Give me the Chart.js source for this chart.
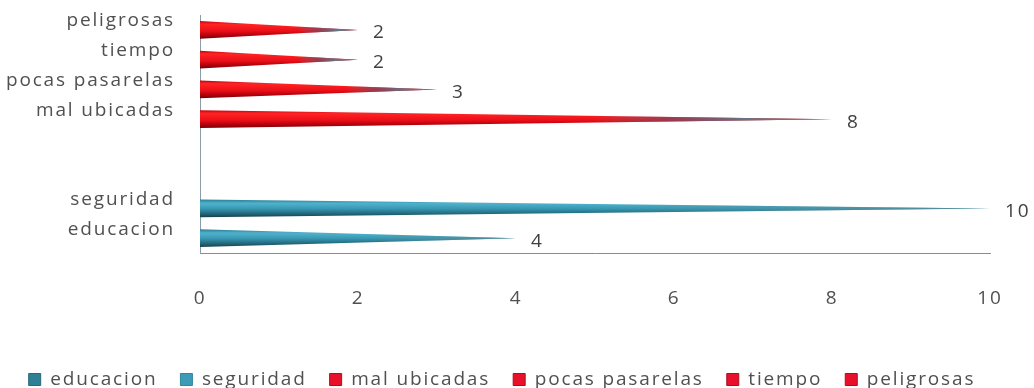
<!DOCTYPE html>
<html>
<head>
<meta charset="utf-8">
<script src="https://cdn.jsdelivr.net/npm/chart.js@4/dist/chart.umd.min.js"></script>
<style>
  html, body { margin: 0; padding: 0; background: #ffffff; }
  #wrap { width: 1034px; height: 388px; position: relative; }
</style>
</head>
<body>
<div id="wrap"><canvas id="chart"></canvas></div>
<script>
// Row labels of the vertical axis, top to bottom (two empty rows separate the groups)
const rowLabels = ['peligrosas', 'tiempo', 'pocas pasarelas', 'mal ubicadas', '', '', 'seguridad', 'educacion'];
// Series, in legend order
const seriesNames = ['educacion', 'seguridad', 'mal ubicadas', 'pocas pasarelas', 'tiempo', 'peligrosas'];
const seriesValues = [4, 10, 8, 3, 2, 2];
// Horizontal axis ticks
const xTicks = [0, 2, 4, 6, 8, 10];

const FONT = "'Open Sans', 'Noto Sans', sans-serif";
const FONT_SIZE = 19;
const TEXT = '#505050';
const SPACING = '1.85px';

// Cone shading per colour family
const palettes = {
  blue: {
    legendFill: '#2f7f95', legendStroke: '#256a7d',
    shade: [[0, '#2a7d93'], [0.22, '#4fb2cd'], [0.5, '#3a9ab4'], [0.8, '#22687c'], [1, '#163f4c']],
    tip: [[0, 'rgba(95,135,145,0)'], [0.55, 'rgba(95,135,145,0)'], [1, 'rgba(95,135,145,0.75)']]
  },
  lightBlue: {
    legendFill: '#3b9cb7', legendStroke: '#2f87a0',
    shade: [[0, '#2a7d93'], [0.22, '#4fb2cd'], [0.5, '#3a9ab4'], [0.8, '#22687c'], [1, '#163f4c']],
    tip: [[0, 'rgba(95,135,145,0)'], [0.55, 'rgba(95,135,145,0)'], [1, 'rgba(95,135,145,0.75)']]
  },
  red: {
    legendFill: '#e8102a', legendStroke: '#a81020',
    shade: [[0, '#c0000e'], [0.18, '#ff2424'], [0.55, '#ec1018'], [0.82, '#b0000c'], [1, '#700008']],
    tip: [[0, 'rgba(92,122,138,0)'], [0.62, 'rgba(92,122,138,0)'], [0.74, 'rgba(110,80,110,0.6)'], [0.86, 'rgba(92,122,138,0.95)'], [1, 'rgba(92,128,142,1)']]
  }
};
const seriesPalette = ['blue', 'lightBlue', 'red', 'red', 'red', 'red'];

const datasets = seriesNames.map((name, i) => ({
  label: name,
  data: rowLabels.map(r => (r === name ? seriesValues[i] : null)),
  palette: palettes[seriesPalette[i]],
  backgroundColor: palettes[seriesPalette[i]].legendFill,
  grouped: false,
  barPercentage: 0.6,
  categoryPercentage: 1.0
}));

// Wider text spacing for every label drawn on the canvas
const textSpacing = {
  id: 'textSpacing',
  beforeLayout(chart) { chart.ctx.letterSpacing = SPACING; },
  beforeDraw(chart) { chart.ctx.letterSpacing = SPACING; }
};

// Bars are drawn as shaded cones tapering to the value
const cones = {
  id: 'cones',
  beforeDatasetDraw(chart, args) {
    const ctx = chart.ctx;
    const ds = chart.data.datasets[args.index];
    const pal = ds.palette;
    args.meta.data.forEach((el, j) => {
      if (ds.data[j] === null) return;
      const { x, y, base, height } = el.getProps(['x', 'y', 'base', 'height'], true);
      const top = y - height / 2, bottom = y + height / 2;
      ctx.save();
      ctx.beginPath();
      ctx.moveTo(base, top);
      ctx.lineTo(x, y);
      ctx.lineTo(base, bottom);
      ctx.closePath();
      const vg = ctx.createLinearGradient(0, top, 0, bottom);
      pal.shade.forEach(([o, c]) => vg.addColorStop(o, c));
      ctx.fillStyle = vg;
      ctx.fill();
      const hg = ctx.createLinearGradient(base, 0, x, 0);
      pal.tip.forEach(([o, c]) => hg.addColorStop(o, c));
      ctx.fillStyle = hg;
      ctx.fill();
      ctx.restore();
    });
    return false;
  },
  afterDatasetsDraw(chart) {
    const ctx = chart.ctx;
    ctx.save();
    ctx.letterSpacing = SPACING;
    ctx.font = FONT_SIZE + 'px ' + FONT;
    ctx.fillStyle = '#404040';
    ctx.textAlign = 'left';
    ctx.textBaseline = 'middle';
    chart.data.datasets.forEach((ds, i) => {
      chart.getDatasetMeta(i).data.forEach((el, j) => {
        const v = ds.data[j];
        if (v === null) return;
        const { x, y } = el.getProps(['x', 'y'], true);
        ctx.fillText(String(v), x + 15, y + 3);
      });
    });
    ctx.restore();
  }
};

new Chart(document.getElementById('chart'), {
  type: 'bar',
  data: { labels: rowLabels, datasets },
  plugins: [textSpacing, cones],
  options: {
    indexAxis: 'y',
    responsive: true,
    maintainAspectRatio: false,
    animation: false,
    layout: { padding: { left: 0, right: 30, top: 15, bottom: -11 } },
    scales: {
      x: {
        min: 0,
        max: 10,
        afterBuildTicks(scale) { scale.ticks = xTicks.map(v => ({ value: v })); },
        grid: { display: false, drawTicks: false },
        border: { display: true, color: '#8c8c8c', width: 1 },
        ticks: { font: { family: FONT, size: FONT_SIZE }, color: TEXT, padding: 34 },
        afterFit(scale) { scale.height = 94; scale.paddingLeft = 0; scale.paddingRight = 44; }
      },
      y: {
        type: 'category',
        grid: { display: false, drawTicks: false },
        border: { display: true, color: '#8e9ca8', width: 1 },
        ticks: { font: { family: FONT, size: FONT_SIZE }, color: TEXT, padding: 25, labelOffset: -9, autoSkip: false },
        afterFit(scale) { scale.width = 200; scale.paddingTop = 0; scale.paddingBottom = 0; }
      }
    },
    plugins: {
      tooltip: { enabled: false },
      legend: {
        position: 'bottom',
        labels: {
          font: { family: FONT, size: FONT_SIZE },
          color: TEXT,
          boxWidth: 12,
          boxHeight: 12,
          padding: 23,
          generateLabels(chart) {
            return chart.data.datasets.map((ds, i) => ({
              text: ds.label,
              fillStyle: ds.palette.legendFill,
              strokeStyle: ds.palette.legendStroke,
              lineWidth: 1,
              fontColor: TEXT,
              hidden: false,
              datasetIndex: i
            }));
          }
        }
      }
    }
  }
});
</script>
</body>
</html>
